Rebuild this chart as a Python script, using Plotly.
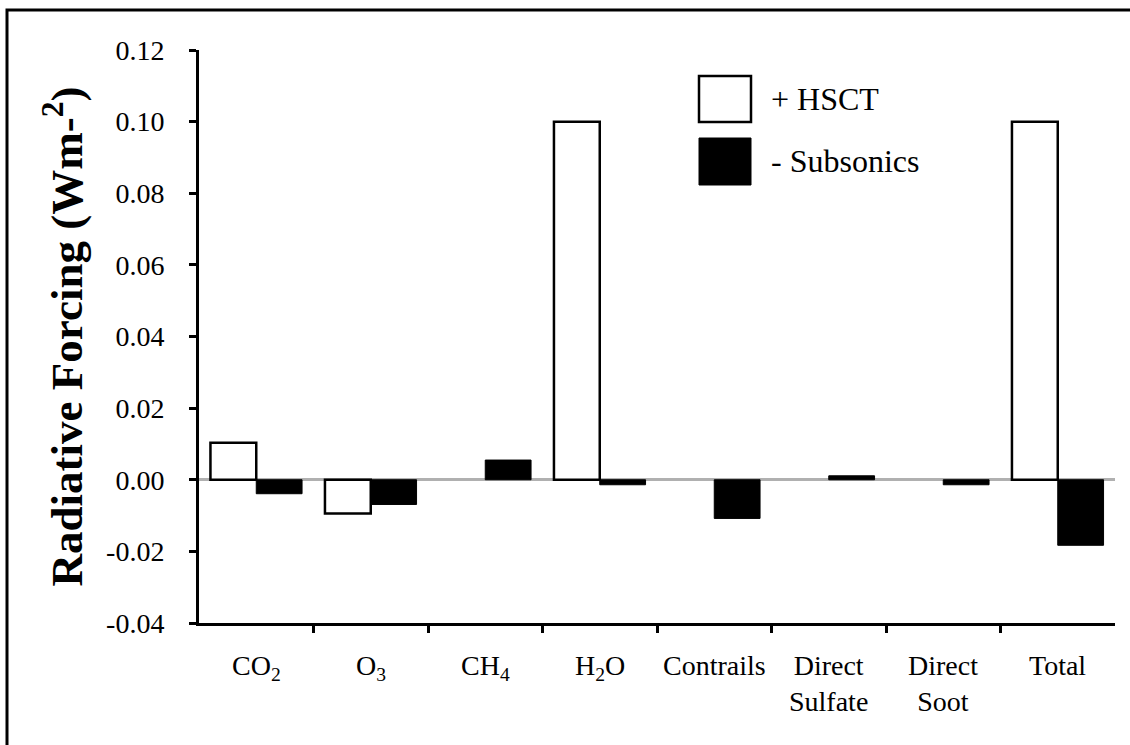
import plotly.graph_objects as go

categories = ["CO<sub>2</sub>", "O<sub>3</sub>", "CH<sub>4</sub>", "H<sub>2</sub>O",
              "Contrails", "Direct<br>Sulfate", "Direct<br>Soot", "Total"]
hsct = [0.0103, -0.0094, None, 0.100, None, None, None, 0.100]
subsonics = [-0.0039, -0.0069, 0.0055, -0.0014, -0.0108, 0.0011, -0.0014, -0.0183]
y_ticks = [-0.04, -0.02, 0.00, 0.02, 0.04, 0.06, 0.08, 0.10, 0.12]

W, H = 1130, 745
L, R, T, B = 199, 15, 50, 122
PW, PH = W - L - R, H - T - B
FONT = "Liberation Serif, Times New Roman, serif"


def px(x):
    return (x - L) / PW


def py(y):
    return (H - B - y) / PH


xs = list(range(len(categories)))

fig = go.Figure()
fig.add_trace(go.Bar(
    x=xs, y=hsct, name="+ HSCT",
    marker=dict(color="white", line=dict(color="black", width=2.5)),
))
fig.add_trace(go.Bar(
    x=xs, y=subsonics, name="- Subsonics",
    marker=dict(color="black", line=dict(color="black", width=1)),
))

fig.update_layout(
    width=W, height=H,
    margin=dict(l=L, r=R, t=T, b=B, autoexpand=False),
    paper_bgcolor="white", plot_bgcolor="white",
    barmode="group", bargap=0.2, bargroupgap=0,
    showlegend=False,
    font=dict(family=FONT, color="black", size=28),
)

fig.update_xaxes(
    range=[-0.5, len(categories) - 0.5],
    tickvals=[i + 0.5 for i in xs[:-1]],
    showticklabels=False,
    ticks="outside", ticklen=7, tickwidth=3, tickcolor="black",
    showline=True, linecolor="black", linewidth=3,
    showgrid=False, zeroline=False,
)
fig.update_yaxes(
    range=[-0.04, 0.12],
    tickvals=y_ticks,
    ticktext=[f"{v:.2f}" for v in y_ticks],
    tickfont=dict(family=FONT, size=28),
    ticks="outside", ticklen=7, tickwidth=3, tickcolor="black",
    ticklabelstandoff=19,
    showline=True, linecolor="black", linewidth=3,
    showgrid=False,
    zeroline=True, zerolinecolor="#b0b0b0", zerolinewidth=2.5,
    title=dict(text="Radiative Forcing (Wm-<sup>2</sup>)",
               font=dict(family=FONT, size=45, weight="bold"), standoff=10),
)

# category labels under the axis
for i, lab in enumerate(categories):
    fig.add_annotation(
        x=i, y=py(648), xref="x", yref="paper",
        text=lab, showarrow=False, xanchor="center", yanchor="top",
        font=dict(family=FONT, size=28),
    )

# legend drawn by hand (big swatches)
fig.add_shape(type="rect", xref="paper", yref="paper",
              x0=px(699), x1=px(751), y0=py(122), y1=py(76),
              fillcolor="white", line=dict(color="black", width=2.5))
fig.add_shape(type="rect", xref="paper", yref="paper",
              x0=px(699), x1=px(751), y0=py(185), y1=py(138),
              fillcolor="black", line=dict(color="black", width=1))
fig.add_annotation(x=px(769), y=py(99), xref="paper", yref="paper",
                   text="+ HSCT", showarrow=False, xanchor="left", yanchor="middle",
                   font=dict(family=FONT, size=32))
fig.add_annotation(x=px(769), y=py(161), xref="paper", yref="paper",
                   text="- Subsonics", showarrow=False, xanchor="left", yanchor="middle",
                   font=dict(family=FONT, size=32))

# outer frame
fig.add_shape(type="rect", xref="paper", yref="paper",
              x0=px(7), x1=px(1140), y0=py(760), y1=py(10),
              line=dict(color="black", width=3), fillcolor="rgba(0,0,0,0)")

fig.write_html("out.html", config={"displayModeBar": False},
               post_script="document.body.style.margin='0';")
